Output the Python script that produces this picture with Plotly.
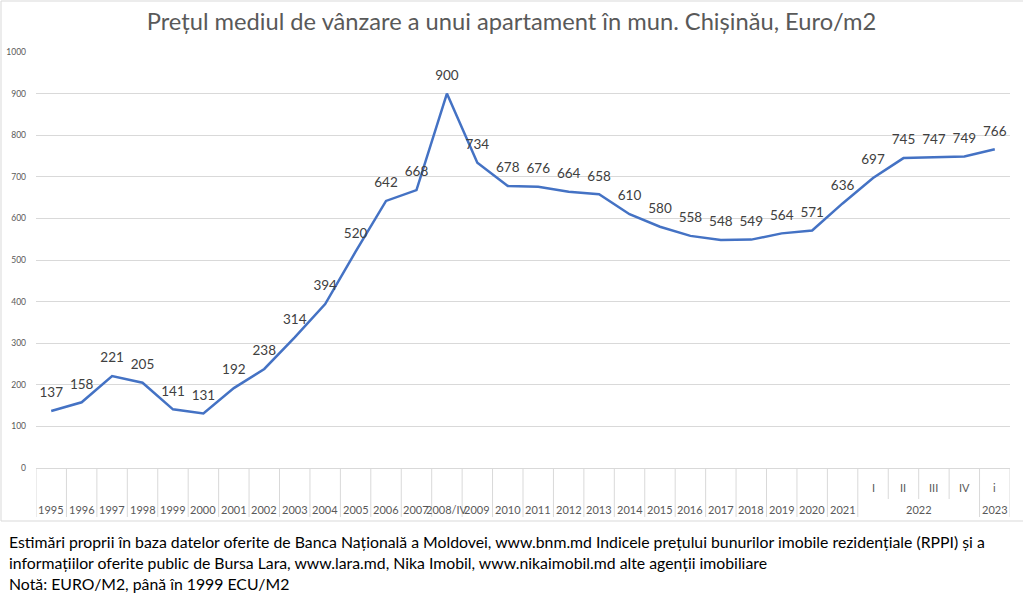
import plotly.graph_objects as go

# ---- data ----
categories = ["1995", "1996", "1997", "1998", "1999", "2000", "2001", "2002", "2003",
              "2004", "2005", "2006", "2007", "2008/IV", "2009", "2010", "2011", "2012",
              "2013", "2014", "2015", "2016", "2017", "2018", "2019", "2020", "2021",
              "I", "II", "III", "IV", "i"]
values = [137, 158, 221, 205, 141, 131, 192, 238, 314, 394, 520, 642, 668, 900, 734,
          678, 676, 664, 658, 610, 580, 558, 548, 549, 564, 571, 636, 697, 745, 747,
          749, 766]
# group labels for the outer (year) row of the quarterly categories
groups = [("2022", 27, 30), ("2023", 31, 31)]
quarter_idx = [27, 28, 29, 30, 31]
y_ticks = [0, 100, 200, 300, 400, 500, 600, 700, 800, 900, 1000]

title = "Prețul mediul de vânzare a unui apartament în mun. Chișinău, Euro/m2"
notes = [
    "Estimări proprii în baza datelor oferite de Banca Națională a Moldovei, www.bnm.md Indicele prețului bunurilor imobile rezidențiale (RPPI) și a",
    "informațiilor oferite public de Bursa Lara, www.lara.md, Nika Imobil, www.nikaimobil.md alte agenții imobiliare",
    "Notă: EURO/M2, până în 1999 ECU/M2",
]

FONT = "Lato, Carlito, Calibri, sans-serif"
GRAY = "#595959"
GRID = "#d9d9d9"

x = list(range(len(categories)))

fig = go.Figure()
fig.add_trace(go.Scatter(
    x=x, y=values, mode="lines+markers+text",
    line=dict(color="#4472C4", width=2.5),
    marker=dict(size=15, opacity=0),
    text=[str(v) for v in values], textposition="top center",
    textfont=dict(family=FONT, size=13.5, color="#404040"),
    cliponaxis=False, hoverinfo="skip", showlegend=False,
))

n = len(categories)
shapes = []
annotations = []

# chart border
shapes.append(dict(type="rect", xref="paper", yref="paper",
                   x0=-35/974, x1=1010/974, y0=-53/416, y1=467/416,
                   line=dict(color=GRID, width=1), layer="below"))

# category axis dividers
y_full = -49/416
y_half = -31/416
for b in range(n + 1):
    xb = b - 0.5
    inner = (28 <= b <= 30)
    shapes.append(dict(type="line", xref="x", yref="paper", x0=xb, x1=xb,
                       y0=0, y1=(y_half if inner else y_full),
                       line=dict(color=GRID, width=1)))

y_top_row = -19/416
y_bot_row = -41/416
for i, c in enumerate(categories):
    if i in quarter_idx:
        annotations.append(dict(x=i, y=y_top_row, xref="x", yref="paper", text=c,
                                showarrow=False, font=dict(family=FONT, size=11, color=GRAY),
                                xanchor="center", yanchor="middle"))
    else:
        annotations.append(dict(x=i, y=y_bot_row, xref="x", yref="paper", text=c,
                                showarrow=False, font=dict(family=FONT, size=11, color=GRAY),
                                xanchor="center", yanchor="middle"))
for label, a, b in groups:
    annotations.append(dict(x=(a + b) / 2, y=y_bot_row, xref="x", yref="paper", text=label,
                            showarrow=False, font=dict(family=FONT, size=11, color=GRAY),
                            xanchor="center", yanchor="middle"))

# footnotes
for k, line in enumerate(notes):
    annotations.append(dict(x=-29/974, y=(468 - (541 + 21 * k)) / 416, xref="paper", yref="paper",
                            text=line, showarrow=False, xanchor="left", yanchor="middle",
                            font=dict(family=FONT, size=15.8, color="#000000")))

fig.update_layout(
    width=1023, height=598,
    margin=dict(l=36, r=13, t=52, b=130, autoexpand=False),
    paper_bgcolor="white", plot_bgcolor="white",
    title=dict(text=title, x=0.5, xanchor="center", y=1 - 22/598, yanchor="middle",
               font=dict(family=FONT, size=23.7, color=GRAY)),
    xaxis=dict(range=[-0.5, n - 0.5], showticklabels=False, showgrid=False,
               zeroline=False, showline=False, fixedrange=True, automargin=False),
    yaxis=dict(range=[0, 1000], tickvals=y_ticks, showgrid=True, gridcolor=GRID,
               gridwidth=1, zeroline=True, zerolinecolor=GRID, zerolinewidth=1,
               showline=False, ticks="", ticklabelstandoff=9, automargin=False,
               fixedrange=True, tickfont=dict(family=FONT, size=8.5, color=GRAY)),
    shapes=shapes, annotations=annotations,
)

fig.write_html("out.html", config={"displayModeBar": False},
               post_script="document.body.style.margin='0';document.body.style.overflow='hidden';")
